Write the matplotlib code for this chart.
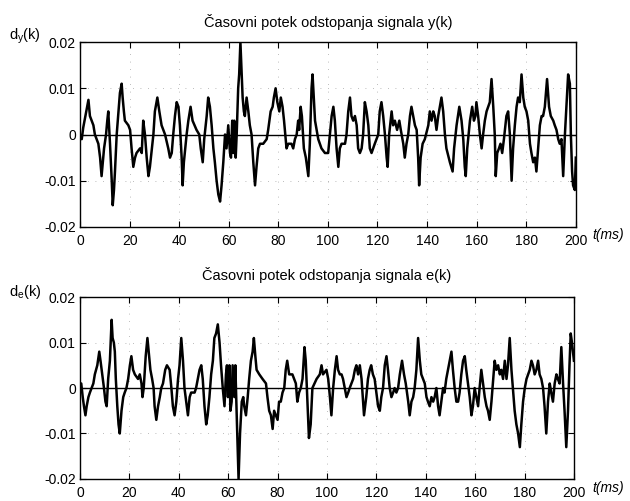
import numpy as np
import matplotlib
matplotlib.use("Agg")
import matplotlib.pyplot as plt

plt.rcParams['font.family'] = ['Liberation Sans', 'DejaVu Sans']

# deviation of y(k), values in 1e-3
t_y = [0.0, 0.7, 1.3, 2.0, 3.4, 4.0, 5.4, 6.0, 7.4, 8.1, 8.7, 9.7, 10.5, 11.0, 11.4, 12.1, 12.8, 13.2, 13.7, 14.1,
       14.8, 15.5, 16.1, 16.8, 17.2, 17.7, 18.1, 19.5, 20.2, 20.8, 21.5, 22.2, 22.8, 24.2, 24.9, 25.5, 26.2, 26.9, 27.6,
       28.2, 29.6, 30.2, 31.2, 32.0, 32.9, 34.3, 35.6, 36.3, 37.0, 37.6, 38.3, 39.0, 39.7, 40.3, 41.0, 41.4, 41.9, 43.0,
       43.7, 44.6, 45.4, 47.0, 48.1, 48.7, 49.5, 50.1, 51.1, 51.7, 52.4, 53.1, 53.8, 54.4, 55.1, 55.8, 56.5, 57.1, 57.8,
       58.5, 59.1, 59.8, 60.5, 60.9, 61.4, 61.8, 62.2, 62.8, 63.2, 63.8, 64.2, 64.7, 65.2, 65.6, 66.1, 66.5, 67.2, 67.9,
       68.5, 69.2, 69.9, 70.6, 71.2, 71.9, 72.6, 73.9, 75.3, 75.9, 76.9, 77.7, 78.2, 78.9, 79.6, 80.4, 81.0, 81.7, 82.3,
       82.8, 83.3, 84.0, 85.3, 86.0, 86.7, 87.4, 88.0, 88.4, 89.0, 89.5, 90.3, 91.1, 92.1, 92.7, 93.4, 93.8, 94.8, 96.1,
       97.4, 98.8, 100.1, 100.8, 101.5, 102.2, 102.8, 103.5, 104.2, 104.8, 105.5, 106.9, 107.5, 108.2, 108.9, 109.5,
       110.2, 110.9, 111.6, 112.2, 112.9, 113.6, 114.2, 114.9, 115.6, 116.3, 116.9, 117.6, 118.9, 120.3, 120.9, 121.6,
       122.3, 123.0, 123.7, 124.1, 124.7, 125.7, 126.3, 127.0, 127.9, 128.8, 129.4, 130.4, 131.0, 131.7, 132.4, 133.1,
       133.7, 134.4, 135.1, 135.8, 136.4, 136.8, 137.4, 138.2, 139.1, 140.5, 141.1, 141.8, 142.5, 143.1, 143.8, 144.5,
       145.8, 146.5, 147.2, 147.8, 149.2, 150.3, 150.9, 151.9, 153.0, 153.9, 154.6, 155.2, 155.6, 156.2, 157.3, 158.2,
       158.9, 159.5, 159.9, 160.6, 161.3, 162.0, 162.6, 163.3, 164.0, 165.3, 166.0, 166.7, 167.3, 167.7, 168.3, 169.0,
       169.6, 170.3, 171.0, 171.4, 172.0, 172.7, 173.4, 174.1, 174.7, 175.4, 176.1, 176.7, 177.4, 178.1, 178.8, 179.4,
       180.1, 180.8, 181.5, 182.1, 182.8, 183.5, 184.1, 184.8, 185.5, 186.2, 186.8, 187.5, 188.4, 189.2, 189.9, 190.9,
       191.5, 192.2, 192.9, 193.5, 194.2, 194.9, 195.6, 196.2, 196.9, 197.6, 198.0, 198.5, 198.9, 199.6, 200.0]
d_y = [0, -1, 1.5, 3.5, 7.5, 4, 2, 0, -2, -5, -9, -3, 0, 3, 5, -2, -10, -15.3, -12, -8,
       0, 5, 9, 11, 8, 5, 3, 2, 1, -3, -7, -5, -4, -3, -4, 3, 0, -5, -9,
       -7, 0, 5, 8, 5, 2, 0, -3, -5, -4, 0, 4, 7, 6, 2, -5, -11, -6, 0,
       3, 6, 3, 1, 0, -3, -6, -1, 4, 8, 6, 2, -3, -6, -10, -13, -14.5, -11, -6,
       0, -3, 2, -4, -5, 3, -4, 3, -5, 0, 10, 13, 20, 13, 8, 5, 4, 8, 5,
       2, 0, -6, -11, -7, -3, -2, -2, -1, 1, 5, 6, 8, 10, 7, 5, 8, 6, 3,
       0, -3, -2, -2, -3, -1, 0, 3, 1, 6, 4, -3, -5, -9, -2, 10, 13, 3, -1,
       -3, -4, -4, 0, 4, 6, 3, -3, -7, -3, -2, -2, 0, 5, 8, 4,
       3, 4, 2, -3, -4, -3, 0, 7, 5, 2, -3, -4, -2, 0, 5, 7,
       4, 0, -5, -7, 0, 5, 2, 3, 1, 3, 1, -2, -5, -2, 0, 4,
       6, 4, 2, 1, -5, -11, -5, -2, -1, 2, 5, 3, 5, 4, 1, 4,
       8, 5, 0, -3, -6, -8, -3, 2, 6, 3, -1, -7, -9, -3, 3, 6,
       3, 4, 7, 4, 0, -3, 0, 3, 5, 7, 12, 6, 0, -9, -4, -3,
       -2, -4, -1, 1, 4, 5, 0, -10, -3, 2, 6, 8, 7, 13, 8, 6,
       5, 3, -2, -4, -6, -5, -8, -3, 2, 4, 4, 6, 12, 6, 4, 3,
       2, 1, -1, -2, -1, -9, 0, 6, 13, 11, 0, -8, -11, -12, -5]

# deviation of e(k), values in 1e-3
t_e = [0.0, 0.5, 1.1, 1.6, 2.2, 2.7, 3.4, 4.0, 4.7, 5.4, 6.0, 7.0, 7.8, 8.3, 9.0, 9.7, 10.3, 10.8, 11.4, 12.1,
       12.8, 13.2, 13.7, 14.1, 14.5, 15.1, 15.6, 16.1, 16.8, 17.5, 18.1, 18.8, 19.5, 20.2, 20.8, 21.5, 22.2, 23.5,
       24.2, 24.9, 25.3, 25.8, 26.6, 27.3, 28.0, 28.5, 29.2, 29.8, 30.2, 30.9, 31.6, 32.3, 32.9, 33.6, 34.5, 35.2,
       36.3, 37.0, 37.6, 38.3, 39.0, 39.7, 40.3, 41.0, 41.7, 42.3, 43.0, 43.7, 44.4, 45.0, 46.4, 47.0, 47.7, 48.4,
       49.1, 49.7, 50.4, 51.1, 51.7, 52.4, 53.1, 53.8, 54.4, 55.1, 55.8, 56.5, 57.1, 57.8, 58.5, 59.1, 59.5, 59.9,
       60.5, 60.9, 61.4, 61.8, 62.5, 62.9, 63.4, 64.0, 64.2, 64.8, 65.5, 66.1, 66.5, 67.2, 67.9, 68.5, 69.2, 69.9,
       70.4, 71.0, 71.5, 72.6, 73.9, 75.3, 75.9, 76.6, 77.3, 78.0, 78.6, 79.3, 80.0, 80.6, 81.3, 82.0, 82.7, 83.3,
       83.9, 84.7, 86.0, 86.7, 87.4, 88.0, 88.7, 89.4, 90.1, 90.9, 91.4, 92.1, 92.7, 93.4, 94.1, 95.8, 97.1, 97.8,
       98.4, 99.8, 100.5, 101.2, 101.8, 102.5, 103.2, 103.9, 104.5, 105.2, 105.9, 106.5, 107.2, 107.9, 108.6, 109.2,
       109.9, 110.6, 111.3, 111.9, 112.6, 113.3, 114.0, 114.6, 115.0, 115.9, 116.6, 117.3, 117.9, 118.6, 119.3,
       120.0, 120.7, 121.4, 122.0, 122.7, 123.4, 124.1, 124.7, 125.4, 126.1, 126.8, 127.4, 128.1, 128.8, 129.5,
       130.4, 131.2, 131.9, 132.9, 133.5, 134.2, 134.9, 135.5, 136.2, 136.9, 137.6, 138.2, 138.9, 139.6, 140.3,
       140.9, 141.6, 142.3, 143.0, 143.6, 144.3, 145.0, 145.6, 146.3, 147.0, 147.6, 148.3, 149.0, 149.7, 150.4,
       151.0, 151.7, 152.4, 153.1, 153.7, 154.4, 155.1, 155.8, 156.4, 157.1, 157.8, 158.5, 159.1, 159.8, 160.5,
       161.2, 161.8, 162.5, 163.2, 163.9, 164.6, 165.2, 165.9, 166.6, 167.3, 167.9, 168.6, 169.3, 170.0, 170.6,
       171.3, 172.0, 172.7, 173.3, 174.0, 174.7, 175.4, 176.0, 176.7, 177.4, 178.1, 178.7, 179.4, 180.1, 180.8,
       182.1, 182.8, 183.4, 184.1, 184.8, 185.5, 186.1, 186.8, 187.5, 188.1, 188.8, 189.5, 190.2, 190.8, 191.5,
       192.2, 192.9, 193.5, 194.2, 194.9, 195.6, 196.2, 196.9, 197.6, 198.2, 198.7, 199.2, 199.6, 200.0]
d_e = [1, 1, -2, -4, -6, -4, -2, -1, 0, 1, 3, 5, 8, 6, 3, 0, -3, -4, 2, 6,
       15, 11, 10, 8, 2, -4, -8, -10, -5, -2, -1, 0, 2, 5, 7, 4, 3, 2,
       3, 1, -2, 0, 7, 11, 7, 4, 2, 0, -4, -7, -4, -2, 0, 1, 4, 5,
       4, 0, -4, -6, -3, 2, 5, 11, 6, 0, -3, -6, -2, -1, -1, 0, 2, 4,
       5, 2, -4, -8, -6, -2, 3, 6, 11, 12, 14, 10, 5, 0, -4, 3, 5, -2,
       5, -5, -3, 5, -2, 5, -5, -16, -20, -10, -3, -2, -4, -6, -2, 2, 6, 8,
       11, 7, 4, 3, 2, 1, -2, -5, -6, -9, -5, -6, -7, -3, -3, -1, 0, 4,
       6, 3, 3, 2, 1, -3, -1, 0, 2, 9, 6, -3, -11, -8, 0, 2, 3, 5,
       3, 4, 2, -2, -6, 0, 4, 7, 4, 3, 3, 2, 0, -2, -1, 0,
       1, 2, 4, 5, 3, 5, 2, -3, -6, -2, 2, 4, 5, 3, 2,
       -1, -4, -5, -2, 0, 5, 7, 4, 0, -2, -1, 0, -1, 0, 3,
       6, 3, 1, -3, -6, -3, -2, 0, 4, 11, 6, 3, 2, 1, -2,
       -3, -4, -2, -3, -2, 0, -4, -6, -3, 0, -1, 2, 4, 6, 8,
       4, 0, -3, -3, -1, 3, 6, 7, 4, 1, -2, -6, -4, 0, -2,
       -4, 0, 4, 1, -2, -4, -5, -7, -3, 2, 6, 4, 5, 3, 4,
       2, 6, 2, 5, 11, 4, -1, -5, -8, -10, -13, -8, -3, 0, 2,
       4, 6, 5, 3, 4, 6, 3, 2, 0, -4, -10, -3, 1, -1, -3,
       1, 3, 2, 1, 9, 1, -5, -13, -5, 5, 12, 10, 8, 6]

titles = ['Časovni potek odstopanja signala y(k)', 'Časovni potek odstopanja signala e(k)']
ylabels = [r'd$\mathregular{_y}$(k)', r'd$\mathregular{_e}$(k)']
x_ticks = [0, 20, 40, 60, 80, 100, 120, 140, 160, 180, 200]
y_ticks = [-0.02, -0.01, 0, 0.01, 0.02]
y_tick_labels = ['-0.02', '-0.01', '0', '0.01', '0.02']

fig = plt.figure(figsize=(6.3, 5.01), dpi=100)
ax1 = fig.add_axes([0.127, 0.547, 0.787, 0.369])
ax2 = fig.add_axes([0.127, 0.044, 0.784, 0.363])

series = [(t_y, d_y), (t_e, d_e)]
label_y = [1 - 40 / 501, 1 - 296 / 501]
tms_y = [1 - 235 / 501, 1 - 488 / 501]
title_pad = [11, 12]

for i, ax in enumerate([ax1, ax2]):
    t, d = series[i]
    ax.plot(t, np.array(d) * 1e-3, color='black', lw=1.8)
    ax.axhline(0, color='black', lw=1.0)
    ax.set_xlim(0, 200)
    ax.set_ylim(-0.02, 0.02)
    ax.set_xticks(x_ticks)
    ax.set_yticks(y_ticks)
    ax.set_yticklabels(y_tick_labels)
    ax.tick_params(direction='in', top=True, right=True, length=4, labelsize=10)
    ax.tick_params(axis='x', pad=5)
    ax.tick_params(axis='y', pad=3)
    ax.grid(True, color='0.65', linestyle=(0, (1, 8)), lw=0.6)
    for s in ax.spines.values():
        s.set_linewidth(1.0)
    ax.set_title(titles[i], fontsize=10.5, pad=title_pad[i])
    fig.text(0.015, label_y[i], ylabels[i], fontsize=10.5, ha='left', va='baseline')
    fig.text(0.94, tms_y[i], 't(ms)', fontsize=10, style='italic', ha='left', va='center')

fig.savefig('out.png', dpi=100)
